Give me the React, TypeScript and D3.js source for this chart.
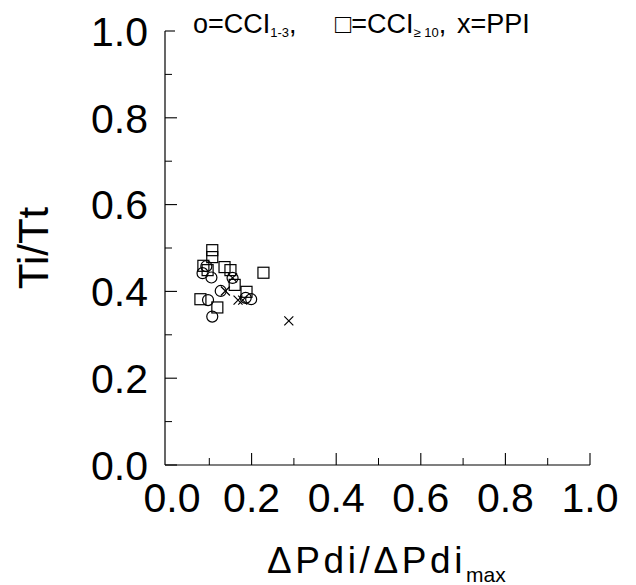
import React from "react";
import * as d3 from "d3";

const xTicks = [0, 0.2, 0.4, 0.6, 0.8, 1.0];
const yTicks = [0, 0.2, 0.4, 0.6, 0.8, 1.0];
const minorTicks = [0.1, 0.3, 0.5, 0.7, 0.9];

// o = CCI 1-3
const circleX = [0.093, 0.105, 0.084, 0.155, 0.127, 0.186, 0.199, 0.097, 0.107];
const circleY = [0.458, 0.432, 0.442, 0.431, 0.401, 0.385, 0.382, 0.38, 0.342];
// square = CCI >= 10
const squareX = [0.107, 0.107, 0.086, 0.096, 0.136, 0.15, 0.16, 0.228, 0.188, 0.079, 0.119];
const squareY = [0.495, 0.479, 0.459, 0.449, 0.456, 0.449, 0.415, 0.443, 0.399, 0.382, 0.363];
// x = PPI
const crossX = [0.155, 0.138, 0.168, 0.179, 0.288];
const crossY = [0.431, 0.401, 0.38, 0.38, 0.332];

const W = 636;
const H = 585;
const FONT = "'Liberation Sans', Arial, sans-serif";

export default function App() {
  const x = d3.scaleLinear().domain([0, 1]).range([167, 590]);
  const y = d3.scaleLinear().domain([0, 1]).range([465, 31]);
  const sw = 1.2;

  return (
    <svg
      width={W}
      height={H}
      style={{ position: "absolute", left: 0, top: 0, background: "#fff" }}
      fontFamily={FONT}
    >
      <rect width={W} height={H} fill="#fff" />
      {/* axes */}
      <line x1={x(0) - 2} x2={x(0) - 2} y1={y(1)} y2={y(0)} stroke="#000" strokeWidth={1.2} />
      <line x1={x(0) - 2} x2={x(1)} y1={y(0)} y2={y(0)} stroke="#000" strokeWidth={1.2} />
      {/* y ticks */}
      {yTicks.map((t) => (
        <line key={"ym" + t} x1={x(0) - 2} x2={x(0) - 2 + (t === 1 ? 10 : 12)} y1={y(t)} y2={y(t)} stroke="#000" strokeWidth={1.1} />
      ))}
      {minorTicks.map((t) => (
        <line key={"yn" + t} x1={x(0) - 2} x2={x(0) + 5} y1={y(t)} y2={y(t)} stroke="#000" strokeWidth={1} />
      ))}
      {/* x ticks */}
      {xTicks.filter((t) => t > 0).map((t) => (
        <line key={"xm" + t} x1={x(t)} x2={x(t)} y1={y(0)} y2={y(0) - 12} stroke="#000" strokeWidth={1.1} />
      ))}
      {minorTicks.map((t) => (
        <line key={"xn" + t} x1={x(t)} x2={x(t)} y1={y(0)} y2={y(0) - 7} stroke="#000" strokeWidth={1} />
      ))}
      {/* tick labels */}
      {yTicks.map((t) => (
        <text key={"yl" + t} x={148} y={y(t)} dy="0.36em" textAnchor="end" fontSize={41} fontWeight={300}>
          {t.toFixed(1)}
        </text>
      ))}
      {xTicks.map((t) => (
        <text key={"xl" + t} x={x(t) + (t === 0 ? 5 : 0)} y={512} textAnchor="middle" fontSize={41} fontWeight={300}>
          {t.toFixed(1)}
        </text>
      ))}
      {/* axis titles */}
      <text transform="translate(48,248) rotate(-90)" textAnchor="middle" fontSize={42}>
        Ti/Tt
      </text>
      <text x={267} y={573} fontSize={37} letterSpacing={3.6}>
        ΔPdi/ΔPdi
        <tspan fontSize={21} dy={9} letterSpacing={0}>max</tspan>
      </text>
      {/* legend */}
      <text y={33} fontSize={27}>
        <tspan x={193}>o=CCI</tspan>
        <tspan fontSize={13} dy={4}>1-3</tspan>
        <tspan dy={-4}>,</tspan>
        <tspan x={335}>□=CCI</tspan>
        <tspan fontSize={13} dy={4}>≥ 10</tspan>
        <tspan dy={-4}>,</tspan>
        <tspan x={457}>x=PPI</tspan>
      </text>
      {/* markers */}
      {squareX.map((v, i) => (
        <rect key={"s" + i} x={x(v) - 5.5} y={y(squareY[i]) - 5.5} width={11} height={11} fill="none" stroke="#000" strokeWidth={sw} />
      ))}
      {circleX.map((v, i) => (
        <circle key={"c" + i} cx={x(v)} cy={y(circleY[i])} r={5.5} fill="none" stroke="#000" strokeWidth={sw} />
      ))}
      {crossX.map((v, i) => (
        <path
          key={"x" + i}
          d={`M${x(v) - 4.5},${y(crossY[i]) - 4.5}L${x(v) + 4.5},${y(crossY[i]) + 4.5}M${x(v) - 4.5},${y(crossY[i]) + 4.5}L${x(v) + 4.5},${y(crossY[i]) - 4.5}`}
          stroke="#000"
          strokeWidth={sw}
          fill="none"
        />
      ))}
    </svg>
  );
}
